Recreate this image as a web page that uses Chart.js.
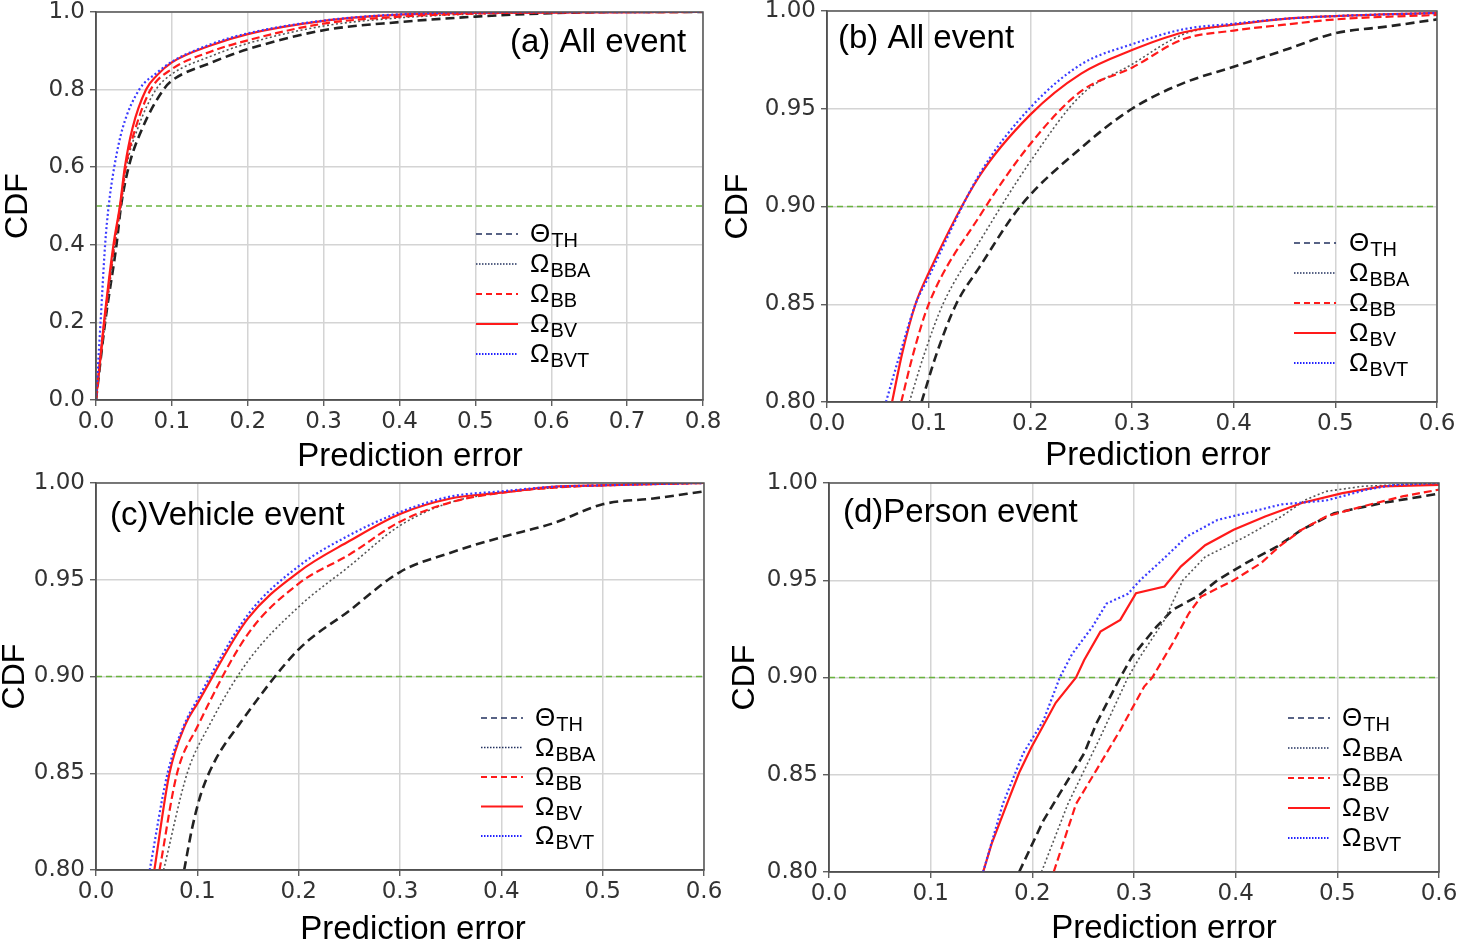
<!DOCTYPE html>
<html>
<head>
    <title>CDF of prediction error</title>
    <style>
        html, body {
            margin: 0;
            padding: 0;
            background: #fff;
            overflow: hidden;
            width: 1459px;
            height: 940px;
        }
        .panel {
            position: absolute;
        }
    </style>
    <script src="https://cdn.jsdelivr.net/npm/chart.js"></script>
</head>
<body>
    <div class="panel" style="left:0;top:0;width:730px;height:470px"><canvas id="chartA"></canvas></div>
    <div class="panel" style="left:720px;top:0;width:750px;height:470px"><canvas id="chartB"></canvas></div>
    <div class="panel" style="left:0;top:470px;width:730px;height:470px"><canvas id="chartC"></canvas></div>
    <div class="panel" style="left:720px;top:470px;width:750px;height:470px"><canvas id="chartD"></canvas></div>

    <script>
        // ---- data: [prediction error, CDF]
        // (a) All event
        const aTH  = [[0,0],[0.012,0.2],[0.027,0.4],[0.033,0.5],[0.043,0.6],[0.061,0.7],[0.089,0.8],[0.1,0.823],[0.15,0.868],[0.2,0.904],[0.3,0.953],[0.4,0.974],[0.5,0.988],[0.6,0.997],[0.7,1.0],[0.8,1.0]];
        const aBBA = [[0,0],[0.012,0.2],[0.025,0.4],[0.033,0.5],[0.040,0.6],[0.055,0.7],[0.079,0.8],[0.1,0.84],[0.15,0.885],[0.2,0.919],[0.3,0.964],[0.4,0.985],[0.5,0.995],[0.6,0.999],[0.8,1.0]];
        const aBB  = [[0,0],[0.011,0.2],[0.024,0.4],[0.032,0.5],[0.039,0.6],[0.052,0.7],[0.072,0.8],[0.1,0.853],[0.15,0.897],[0.2,0.927],[0.3,0.970],[0.4,0.988],[0.5,0.996],[0.6,0.999],[0.8,1.0]];
        const aBV  = [[0,0],[0.0105,0.2],[0.023,0.4],[0.0315,0.5],[0.038,0.6],[0.048,0.7],[0.066,0.8],[0.08,0.836],[0.1,0.87],[0.15,0.913],[0.2,0.943],[0.3,0.977],[0.4,0.993],[0.5,0.998],[0.8,1.0]];
        const aBVT = [[0,0],[0.006,0.2],[0.012,0.4],[0.0167,0.5],[0.024,0.6],[0.035,0.7],[0.057,0.8],[0.08,0.843],[0.1,0.872],[0.15,0.916],[0.2,0.945],[0.3,0.978],[0.4,0.994],[0.5,0.999],[0.8,1.0]];

        // (b) All event, zoomed
        const bTH  = [[0.093,0.80],[0.108,0.825],[0.127,0.85],[0.15,0.869],[0.19,0.90],[0.25,0.930],[0.3,0.950],[0.35,0.963],[0.4,0.9715],[0.45,0.980],[0.5,0.9886],[0.55,0.992],[0.6,0.9957]];
        const bBBA = [[0.081,0.80],[0.096,0.825],[0.114,0.85],[0.15,0.882],[0.2,0.923],[0.25,0.957],[0.3,0.9727],[0.35,0.988],[0.4,0.993],[0.45,0.996],[0.5,0.9975],[0.6,0.999]];
        const bBB  = [[0.073,0.80],[0.085,0.825],[0.1,0.850],[0.15,0.895],[0.2,0.932],[0.25,0.959],[0.3,0.971],[0.35,0.9855],[0.4,0.990],[0.45,0.993],[0.5,0.9957],[0.6,0.998]];
        const bBV  = [[0.064,0.80],[0.074,0.825],[0.087,0.85],[0.1,0.866],[0.15,0.9156],[0.2,0.947],[0.25,0.968],[0.3,0.980],[0.35,0.989],[0.4,0.993],[0.45,0.996],[0.5,0.9974],[0.6,0.999]];
        const bBVT = [[0.058,0.80],[0.072,0.825],[0.087,0.85],[0.1,0.864],[0.15,0.9165],[0.2,0.9506],[0.25,0.9727],[0.3,0.983],[0.35,0.9906],[0.4,0.9935],[0.45,0.996],[0.5,0.9974],[0.6,0.999]];

        // (c) Vehicle event
        const cTH  = [[0.087,0.80],[0.095,0.822],[0.104,0.840],[0.118,0.857],[0.141,0.875],[0.2,0.914],[0.25,0.934],[0.3,0.954],[0.35,0.964],[0.4,0.972],[0.45,0.979],[0.5,0.989],[0.55,0.992],[0.6,0.9957]];
        const cBBA = [[0.0667,0.80],[0.090,0.85],[0.112,0.875],[0.15,0.908],[0.2,0.936],[0.25,0.957],[0.3,0.978],[0.35,0.990],[0.4,0.995],[0.45,0.9975],[0.5,0.9988],[0.6,1.0]];
        const cBB  = [[0.0627,0.80],[0.080,0.85],[0.1,0.874],[0.15,0.922],[0.2,0.948],[0.25,0.963],[0.3,0.980],[0.35,0.990],[0.4,0.995],[0.45,0.9975],[0.5,0.9988],[0.6,1.0]];
        const cBV  = [[0.0576,0.80],[0.0725,0.85],[0.088,0.875],[0.1,0.886],[0.15,0.930],[0.2,0.954],[0.25,0.970],[0.3,0.984],[0.35,0.992],[0.4,0.995],[0.45,0.998],[0.5,0.9988],[0.6,1.0]];
        const cBVT = [[0.053,0.80],[0.0706,0.85],[0.087,0.875],[0.1,0.888],[0.15,0.932],[0.2,0.957],[0.25,0.973],[0.3,0.985],[0.35,0.993],[0.4,0.9957],[0.45,0.998],[0.5,0.9988],[0.6,1.0]];

        // (d) Person event
        const dTH  = [[0.187,0.80],[0.211,0.8266],[0.231,0.8438],[0.251,0.861],[0.263,0.8764],[0.2865,0.90],[0.298,0.9107],[0.322,0.926],[0.338,0.9348],[0.362,0.9416],[0.382,0.95],[0.41,0.9588],[0.441,0.9674],[0.465,0.976],[0.497,0.9845],[0.544,0.9897],[0.6,0.9945]];
        const dBBA = [[0.209,0.80],[0.235,0.835],[0.267,0.8695],[0.294,0.90],[0.306,0.9107],[0.33,0.9296],[0.348,0.95],[0.37,0.962],[0.41,0.9725],[0.445,0.9828],[0.469,0.9914],[0.489,0.9957],[0.525,0.9983],[0.6,1.0]];
        const dBB  = [[0.221,0.80],[0.243,0.835],[0.263,0.8524],[0.2865,0.873],[0.31,0.8953],[0.318,0.90],[0.338,0.9176],[0.354,0.933],[0.366,0.9416],[0.398,0.95],[0.425,0.9588],[0.443,0.9674],[0.465,0.976],[0.489,0.9828],[0.525,0.988],[0.564,0.9931],[0.6,0.9966]];
        const dBV  = [[0.1516,0.80],[0.16,0.8146],[0.175,0.835],[0.187,0.851],[0.199,0.864],[0.223,0.887],[0.243,0.90],[0.251,0.909],[0.267,0.9236],[0.2865,0.9296],[0.302,0.9433],[0.33,0.9468],[0.346,0.957],[0.37,0.968],[0.398,0.976],[0.429,0.9828],[0.465,0.9897],[0.505,0.9948],[0.544,0.9983],[0.6,0.999]];
        const dBVT = [[0.1516,0.80],[0.171,0.835],[0.191,0.861],[0.211,0.878],[0.227,0.90],[0.239,0.912],[0.259,0.926],[0.273,0.938],[0.294,0.943],[0.306,0.95],[0.328,0.9605],[0.352,0.9725],[0.382,0.981],[0.41,0.9845],[0.445,0.989],[0.489,0.991],[0.529,0.9966],[0.556,0.999],[0.6,1.0]];

        // threshold lines and ticks
        const refLevels = [0.5, 0.9, 0.9, 0.9];
        const xTicksA = [0, 0.1, 0.2, 0.3, 0.4, 0.5, 0.6, 0.7, 0.8];
        const xTicksZoom = [0, 0.1, 0.2, 0.3, 0.4, 0.5, 0.6];
        const yTicksA = [0, 0.2, 0.4, 0.6, 0.8, 1.0];
        const yTicksZoom = [0.80, 0.85, 0.90, 0.95, 1.00];
        const panelTitles = ['(a) All event', '(b) All event', '(c)Vehicle event', '(d)Person event'];
        const legendMain = ['\u0398', '\u03A9', '\u03A9', '\u03A9', '\u03A9'];
        const legendSub = ['TH', 'BBA', 'BB', 'BV', 'BVT'];

        // curve styles, index matches legend order
        const curveStyle = [
            {color: '#222222', width: 2.6, dash: [9, 5]},
            {color: '#555555', width: 1.6, dash: [2, 2.5]},
            {color: '#ff1a1a', width: 2.2, dash: [8, 4]},
            {color: '#ff1a1a', width: 2.2, dash: []},
            {color: '#3b3bff', width: 2.2, dash: [2, 2.5]}
        ];
        const legendStyle = [
            {color: '#22305e', width: 1.6, dash: [6, 4]},
            {color: '#22305e', width: 1.6, dash: [1.5, 1.5]},
            {color: '#ff1a1a', width: 1.8, dash: [6, 4]},
            {color: '#ff1a1a', width: 2.2, dash: []},
            {color: '#2222ff', width: 1.8, dash: [1.5, 1.5]}
        ];

        const tickFont = {family: '"DejaVu Sans", sans-serif', size: 23, lineHeight: 1};
        const textFamily = '"Liberation Sans", Arial, sans-serif';

        // draws the frame, x axis title, panel title and the legend with subscripts
        const decor = {
            id: 'decor',
            afterDraw(chart, args, o) {
                const ctx = chart.ctx;
                const ca = chart.chartArea;
                ctx.save();
                ctx.setLineDash([]);
                ctx.strokeStyle = '#555';
                ctx.lineWidth = 1.5;
                ctx.strokeRect(ca.left, ca.top, ca.right - ca.left, ca.bottom - ca.top);

                ctx.fillStyle = '#000';
                ctx.font = '33px ' + textFamily;
                ctx.textBaseline = 'middle';
                ctx.textAlign = 'center';
                ctx.fillText('Prediction error', o.xTitleX, o.xTitleY);

                ctx.textAlign = 'left';
                ctx.fillText(o.title, o.titleX, o.titleY);

                ctx.textBaseline = 'alphabetic';
                legendMain.forEach((m, i) => {
                    const y = o.legY + i * o.legStep;
                    const st = legendStyle[i];
                    ctx.strokeStyle = st.color;
                    ctx.lineWidth = st.width;
                    ctx.setLineDash(st.dash);
                    ctx.beginPath();
                    ctx.moveTo(o.legX0, y);
                    ctx.lineTo(o.legX1, y);
                    ctx.stroke();
                    ctx.font = '26px ' + textFamily;
                    ctx.fillText(m, o.textX, y + 8);
                    const w = ctx.measureText(m).width;
                    ctx.font = '20px ' + textFamily;
                    ctx.fillText(legendSub[i], o.textX + w + 1, y + 13);
                });
                ctx.restore();
            }
        };

        function makePanel(id, curves, p) {
            const datasets = [];
            // reverse so BVT is drawn on top (dataset 0 is painted last)
            for (let i = curves.length - 1; i >= 0; i--) {
                const st = curveStyle[i];
                datasets.push({
                    data: curves[i].map(pt => ({x: pt[0], y: pt[1]})),
                    borderColor: st.color,
                    borderWidth: st.width,
                    borderDash: st.dash,
                    pointRadius: 0,
                    showLine: true,
                    fill: false,
                    cubicInterpolationMode: p.smooth ? 'monotone' : 'default',
                    tension: 0
                });
            }
            datasets.push({
                data: [{x: 0, y: p.ref}, {x: p.xTicks[p.xTicks.length - 1], y: p.ref}],
                borderColor: '#6ab43e',
                borderWidth: 1.6,
                borderDash: [6, 4],
                pointRadius: 0,
                showLine: true
            });

            new Chart(document.getElementById(id), {
                type: 'scatter',
                data: {datasets: datasets},
                plugins: [decor],
                options: {
                    responsive: true,
                    maintainAspectRatio: false,
                    animation: false,
                    devicePixelRatio: 1,
                    layout: {padding: {left: 0, top: p.padTop, right: p.padRight, bottom: 0}},
                    plugins: {
                        legend: {display: false},
                        tooltip: {enabled: false},
                        decor: p.decor
                    },
                    scales: {
                        x: {
                            type: 'linear',
                            min: 0,
                            max: p.xTicks[p.xTicks.length - 1],
                            afterBuildTicks: s => { s.ticks = p.xTicks.map(v => ({value: v})); },
                            afterFit: s => { s.height = p.xAxisHeight; s.paddingLeft = 0; s.paddingRight = 0; },
                            grid: {color: '#d4d4d4', lineWidth: 1.5, tickLength: 6, tickColor: '#444', tickWidth: 1.2},
                            border: {color: '#444', width: 1.5},
                            ticks: {font: tickFont, color: '#333', padding: 5, maxRotation: 0,
                                    callback: v => v.toFixed(1)},
                            title: {display: false}
                        },
                        y: {
                            type: 'linear',
                            min: p.yTicks[0],
                            max: p.yTicks[p.yTicks.length - 1],
                            afterBuildTicks: s => { s.ticks = p.yTicks.map(v => ({value: v})); },
                            afterFit: s => { s.width = p.yAxisWidth; s.paddingTop = 0; s.paddingBottom = 0; },
                            grid: {color: '#d4d4d4', lineWidth: 1.5, tickLength: 6, tickColor: '#444', tickWidth: 1.2},
                            border: {color: '#444', width: 1.5},
                            ticks: {font: tickFont, color: '#333', padding: 5,
                                    callback: v => v.toFixed(p.yDigits)},
                            title: {display: true, text: 'CDF', color: '#000',
                                    font: {family: textFamily, size: 32, lineHeight: 1},
                                    padding: {top: p.yTitlePad, bottom: 0}}
                        }
                    }
                }
            });
        }

        makePanel('chartA', [aTH, aBBA, aBB, aBV, aBVT], {
            ref: refLevels[0], xTicks: xTicksA, yTicks: yTicksA, yDigits: 1, smooth: true,
            padTop: 12, padRight: 27, xAxisHeight: 70, yAxisWidth: 96, yTitlePad: 2,
            decor: {title: panelTitles[0], titleX: 510, titleY: 43, xTitleX: 410, xTitleY: 457,
                    legX0: 476, legX1: 518, textX: 530, legY: 234, legStep: 30}
        });
        makePanel('chartB', [bTH, bBBA, bBB, bBV, bBVT], {
            ref: refLevels[1], xTicks: xTicksZoom, yTicks: yTicksZoom, yDigits: 2, smooth: true,
            padTop: 11, padRight: 33, xAxisHeight: 68, yAxisWidth: 107, yTitlePad: 2,
            decor: {title: panelTitles[1], titleX: 118, titleY: 39, xTitleX: 438, xTitleY: 456,
                    legX0: 574, legX1: 616, textX: 629, legY: 243, legStep: 30}
        });
        makePanel('chartC', [cTH, cBBA, cBB, cBV, cBVT], {
            ref: refLevels[2], xTicks: xTicksZoom, yTicks: yTicksZoom, yDigits: 2, smooth: true,
            padTop: 13, padRight: 26, xAxisHeight: 70, yAxisWidth: 96, yTitlePad: -1,
            decor: {title: panelTitles[2], titleX: 110, titleY: 46, xTitleX: 413, xTitleY: 460,
                    legX0: 481, legX1: 523, textX: 535, legY: 248, legStep: 29.5}
        });
        makePanel('chartD', [dTH, dBBA, dBB, dBV, dBVT], {
            ref: refLevels[3], xTicks: xTicksZoom, yTicks: yTicksZoom, yDigits: 2, smooth: false,
            padTop: 13, padRight: 31, xAxisHeight: 68, yAxisWidth: 109, yTitlePad: 9,
            decor: {title: panelTitles[3], titleX: 123, titleY: 43, xTitleX: 444, xTitleY: 459,
                    legX0: 568, legX1: 610, textX: 622, legY: 248, legStep: 30}
        });
    </script>
</body>
</html>
